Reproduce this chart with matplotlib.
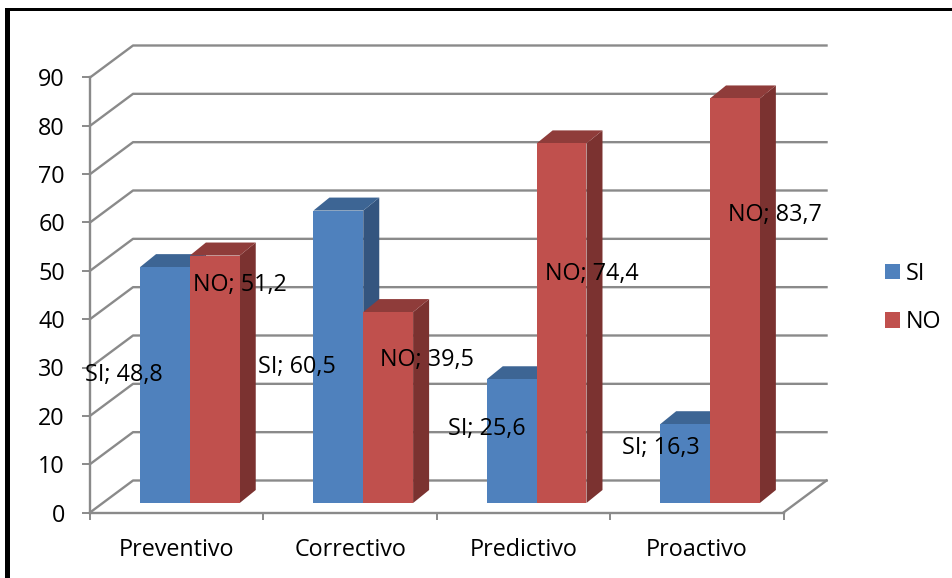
import matplotlib
matplotlib.use('Agg')
import matplotlib.pyplot as plt
from matplotlib.patches import Patch, Polygon, Rectangle

plt.rcParams['font.family'] = ['Open Sans', 'DejaVu Sans']

categories = ['Preventivo', 'Correctivo', 'Predictivo', 'Proactivo']
si_values = [48.8, 60.5, 25.6, 16.3]
no_values = [51.2, 39.5, 74.4, 83.7]
y_ticks = [0, 10, 20, 30, 40, 50, 60, 70, 80, 90]

# offsets of the data labels from the middle of each bar, in pixels
si_offsets = [(-41, 10.5), (-41, -10), (-24.5, 12), (-24.5, 16)]
no_offsets = [(25.5, 94), (39, 47.6), (30.5, 49), (39.5, 86)]

W, H = 953, 578
GRID = '#8A8A8A'
FONT = 16.8

# depth of the fake 3D box and of the bars, in data units
BOX_DX = 43 / 173.25
BOX_DY = 32 / 4.833
BAR_DX = 16 / 173.25
BAR_DY = 13 / 4.833
BAR_LIFT = 9.5 / 4.833
BAR_W = 0.2875
BAR_START = 0.2886


def draw_bar(ax, left, value, front, top, side):
    right = left + BAR_W
    y0 = BAR_LIFT
    y1 = BAR_LIFT + value
    ax.add_patch(Polygon([(right, y0), (right + BAR_DX, y0 + BAR_DY), (right + BAR_DX, y1 + BAR_DY), (right, y1)],
                         fc=side, ec='none', clip_on=False, zorder=3))
    ax.add_patch(Polygon([(left, y1), (left + BAR_DX, y1 + BAR_DY), (right + BAR_DX, y1 + BAR_DY), (right, y1)],
                         fc=top, ec='none', clip_on=False, zorder=3))
    ax.add_patch(Polygon([(left, y0), (right, y0), (right, y1), (left, y1)],
                         fc=front, ec='none', clip_on=False, zorder=3))


fig = plt.figure(figsize=(W / 100, H / 100), dpi=100)
ax = fig.add_axes([90 / W, 1 - 512.5 / H, 693.5 / W, 435 / H])
ax.set_xlim(0, 4)
ax.set_ylim(0, 90)
ax.patch.set_alpha(0)

# walls of the box
for v in y_ticks:
    ax.plot([0, BOX_DX, 4 + BOX_DX], [v, v + BOX_DY, v + BOX_DY], color=GRID, lw=1.7, clip_on=False, zorder=1)
ax.plot([4, 4 + BOX_DX], [0, BOX_DY], color=GRID, lw=1.7, clip_on=False, zorder=1)

for i in range(len(categories)):
    draw_bar(ax, i + BAR_START, si_values[i], '#4F81BD', '#3D6594', '#34557F')
    draw_bar(ax, i + BAR_START + BAR_W, no_values[i], '#C0504D', '#8F3C3A', '#7B3230')

    si_mid = i + BAR_START + BAR_W / 2
    no_mid = si_mid + BAR_W
    ax.annotate('SI; ' + f'{si_values[i]:.1f}'.replace('.', ','), (si_mid, si_values[i] / 2 + BAR_LIFT),
                xytext=si_offsets[i], textcoords='offset pixels', ha='center', va='center',
                fontsize=FONT, color='black', zorder=5, annotation_clip=False)
    ax.annotate('NO; ' + f'{no_values[i]:.1f}'.replace('.', ','), (no_mid, no_values[i] / 2 + BAR_LIFT),
                xytext=no_offsets[i], textcoords='offset pixels', ha='center', va='center',
                fontsize=FONT, color='black', zorder=5, annotation_clip=False)

for name in ['top', 'right']:
    ax.spines[name].set_visible(False)
for name in ['left', 'bottom']:
    ax.spines[name].set_color(GRID)
    ax.spines[name].set_linewidth(1.7)

ax.set_yticks(y_ticks)
ax.set_xticks(range(len(categories) + 1))
ax.set_xticklabels([])
ax.set_xticks([i + 0.5 for i in range(len(categories))], minor=True)
ax.set_xticklabels(categories, minor=True)
ax.tick_params(axis='y', length=6, width=1.4, color=GRID, labelsize=FONT, pad=12)
ax.tick_params(axis='x', which='major', length=5, width=1.4, color=GRID)
ax.tick_params(axis='x', which='minor', length=0, labelsize=FONT, pad=18)

handles = [Patch(fc='#4F81BD', label='SI'), Patch(fc='#C0504D', label='NO')]
fig.legend(handles=handles, loc='center left', bbox_to_anchor=(864 / W, 1 - 298 / H), frameon=False,
           fontsize=FONT, handlelength=0.643, handleheight=0.643, handletextpad=0.26, labelspacing=1.06)

# black border of the pasted picture, only left and top
fig.add_artist(Rectangle((5 / W, 0), 5 / W, 1 - 8 / H, transform=fig.transFigure, fc='black', ec='none'))
fig.add_artist(Rectangle((5 / W, 1 - 11 / H), 948 / W, 3 / H, transform=fig.transFigure, fc='black', ec='none'))

fig.savefig('out.png', dpi=100)
